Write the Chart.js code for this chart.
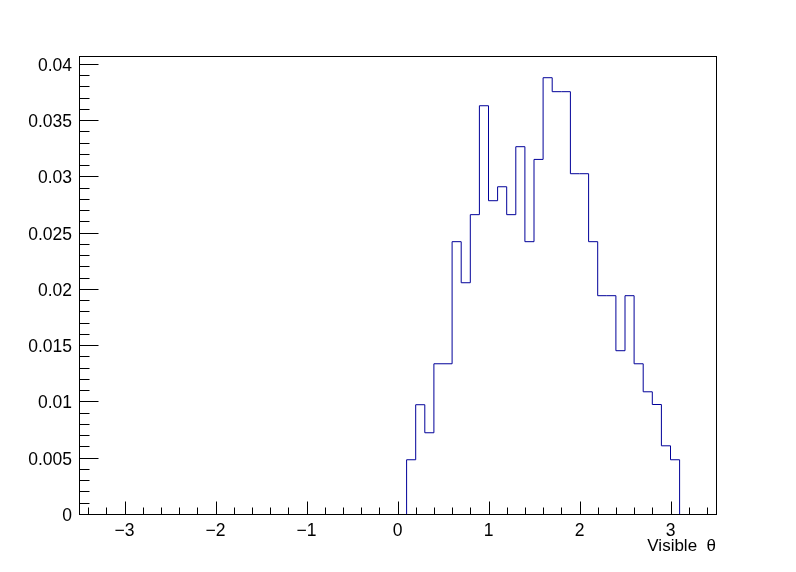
<!DOCTYPE html>
<html>
<head>
<meta charset="utf-8">
<script src="https://cdn.jsdelivr.net/npm/chart.js@4.4.1/dist/chart.umd.min.js"></script>
<style>
  html, body { margin: 0; padding: 0; background: #fff; }
  #wrap { width: 796px; height: 572px; }
</style>
</head>
<body>
<div id="wrap"><canvas id="histo" width="796" height="572"></canvas></div>
<script>
// Histogram: low edges of the non-empty bins (bin width 0.1) and contents
const binLowEdges = [0.1, 0.2, 0.3, 0.4, 0.5, 0.6, 0.7, 0.8, 0.9, 1.0,
                     1.1, 1.2, 1.3, 1.4, 1.5, 1.6, 1.7, 1.8, 1.9, 2.0,
                     2.1, 2.2, 2.3, 2.4, 2.5, 2.6, 2.7, 2.8, 2.9, 3.0];
const binWidth = 0.1;
const binContents = [0.00482, 0.00971, 0.00722, 0.01335, 0.01335, 0.02420, 0.02055, 0.02660, 0.03628, 0.02784,
                     0.02908, 0.02660, 0.03264, 0.02420, 0.03151, 0.03877, 0.03753, 0.03753, 0.03024, 0.03024,
                     0.02420, 0.01940, 0.01940, 0.01451, 0.01940, 0.01335, 0.01086, 0.00973, 0.00606, 0.00482];

const xTickValues = [-3, -2, -1, 0, 1, 2, 3];
const yTickValues = [0, 0.005, 0.01, 0.015, 0.02, 0.025, 0.03, 0.035, 0.04];
const xAxisTitle = 'Visible  \u03b8';
const xMin = -3.5, xMax = 3.5;
const yMax = 0.0407;

const labelFont = { family: "'Liberation Sans', Arial, sans-serif", size: 17.5 };
const titleFont = { family: "'Liberation Sans', Arial, sans-serif", size: 17 };

document.addEventListener('DOMContentLoaded', function() {
    drawHistogram();
});

/**
 * ROOT-like frame with ticks pointing inside the pad.
 */
const rootFrame = {
    id: 'rootFrame',
    afterDatasetsDraw(chart) {
        const { ctx, chartArea: a, scales: { x, y } } = chart;
        const px = v => Math.round(v) + 0.5;
        ctx.save();
        ctx.strokeStyle = '#000';
        ctx.lineWidth = 1;
        ctx.beginPath();

        // x axis: majors every 1, minors every 0.2
        for (let i = Math.ceil(xMin / 0.2); i * 0.2 <= xMax + 1e-9; i++) {
            const v = i * 0.2;
            const major = Math.abs(v - Math.round(v)) < 1e-6;
            const xp = px(x.getPixelForValue(v));
            ctx.moveTo(xp, px(a.bottom));
            ctx.lineTo(xp, px(a.bottom) - (major ? 13 : 7));
        }
        // y axis: majors every 0.005, minors every 0.001
        for (let i = 0; i * 0.001 <= yMax + 1e-9; i++) {
            const major = i % 5 === 0;
            const yp = px(y.getPixelForValue(i * 0.001));
            ctx.moveTo(px(a.left), yp);
            ctx.lineTo(px(a.left) + (major ? 19 : 10), yp);
        }
        ctx.stroke();

        ctx.strokeRect(px(a.left), px(a.top), Math.round(a.right) - Math.round(a.left), Math.round(a.bottom) - Math.round(a.top));
        ctx.restore();
    }
};

function drawHistogram() {
    const canvas = document.getElementById('histo');
    const ctx = canvas.getContext('2d');

    // outline of the histogram as a stepped line
    const points = [{ x: binLowEdges[0], y: 0 }];
    binLowEdges.forEach((lo, i) => points.push({ x: lo, y: binContents[i] }));
    points.push({ x: binLowEdges[binLowEdges.length - 1] + binWidth, y: 0 });

    new Chart(ctx, {
        type: 'line',
        data: {
            datasets: [{
                data: points,
                stepped: true,
                borderColor: '#000099',
                borderWidth: 1,
                pointRadius: 0,
                fill: false
            }]
        },
        options: {
            responsive: false,
            animation: false,
            devicePixelRatio: 1,
            layout: { padding: { top: 56, right: 80, left: 0, bottom: 0 } },
            plugins: {
                legend: { display: false },
                tooltip: { enabled: false }
            },
            scales: {
                x: {
                    type: 'linear',
                    min: xMin,
                    max: xMax,
                    grid: { display: false, drawTicks: false },
                    border: { display: false },
                    afterBuildTicks: scale => { scale.ticks = xTickValues.map(v => ({ value: v })); },
                    afterFit: scale => { scale.height = 58; },
                    ticks: {
                        color: '#000',
                        font: labelFont,
                        padding: 7,
                        maxRotation: 0,
                        autoSkip: false,
                        callback: v => (v < 0 ? '\u2212' + Math.abs(v) : String(v))
                    },
                    title: {
                        display: true,
                        text: xAxisTitle,
                        align: 'end',
                        color: '#000',
                        font: titleFont,
                        padding: { top: 0, bottom: 15 }
                    }
                },
                y: {
                    type: 'linear',
                    min: 0,
                    max: yMax,
                    grid: { display: false, drawTicks: false },
                    border: { display: false },
                    afterBuildTicks: scale => { scale.ticks = yTickValues.map(v => ({ value: v })); },
                    afterFit: scale => { scale.width = 79; },
                    ticks: {
                        color: '#000',
                        font: labelFont,
                        padding: 7,
                        labelOffset: 2,
                        autoSkip: false,
                        callback: v => String(Number(v.toFixed(3)))
                    }
                }
            }
        },
        plugins: [rootFrame]
    });
}
</script>
</body>
</html>
